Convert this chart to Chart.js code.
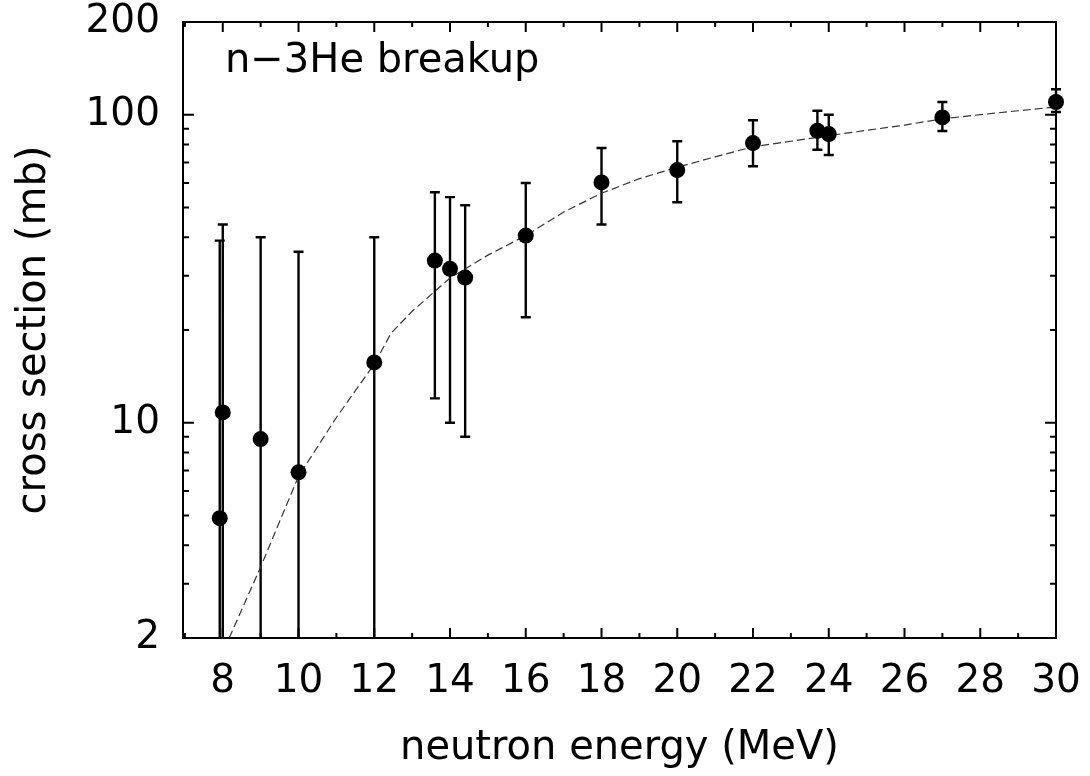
<!DOCTYPE html>
<html><head><meta charset="utf-8">
<script src="https://cdn.jsdelivr.net/npm/chart.js@4.4.1/dist/chart.umd.min.js"></script>
<style>html,body{margin:0;padding:0;background:#fff;} canvas{display:block;}</style>
</head><body>
<canvas id="c" width="1090" height="776"></canvas>
<script>
// ---- data ----
const energies      = [7.92, 8.0, 9, 10, 12, 13.6, 14.0, 14.4, 16, 18, 20, 22, 23.7, 24, 27, 30];
const crossSections = [4.9, 10.8, 8.85, 6.9, 15.7, 33.6, 31.6, 29.6, 40.5, 60.3, 66.1, 80.9, 88.7, 86.5, 98, 110];
const errHigh       = [39, 44, 40, 35.9, 40, 56, 54, 50.8, 60, 78, 82, 96, 103, 100, 110, 121];
const errLow        = [0.5, 0.5, 0.5, 0.5, 0.5, 12, 10, 9, 22, 44, 52, 68, 77, 74, 88.5, 102];

const fitEnergies = [8.17, 9, 10, 11, 12, 12.44, 13, 14, 15, 16, 17, 18, 19, 20, 21, 22, 23, 24, 25, 26, 27, 28, 29, 30];
const fitValues   = [2, 3.4, 6.7, 10.4, 15.5, 19.5, 23, 29.5, 35, 40.5, 48.3, 55.6, 62, 67.5, 73, 78.7, 82, 85.5, 89, 92.5, 97, 100, 103, 106];

const xTickLabels = [8, 10, 12, 14, 16, 18, 20, 22, 24, 26, 28, 30];
const xMinorTicks = [7, 9, 11, 13, 15, 17, 19, 21, 23, 25, 27, 29];
const yTickLabels = [2, 10, 100, 200];
const yMinorTicks = [3, 4, 5, 6, 7, 8, 9, 20, 30, 40, 50, 60, 70, 80, 90];
const yMajorTicks = [10, 100];

const chartTitle = 'n\u22123He breakup';
const xTitle = 'neutron energy (MeV)';
const yTitle = 'cross section (mb)';

const FONT = 'DejaVu Sans';
Chart.defaults.font.family = FONT;
Chart.defaults.color = '#000';

const frameAndTicks = {
  id: 'frameAndTicks',
  afterDraw(chart) {
    const {ctx, chartArea: a, scales: {x, y}} = chart;
    ctx.save();
    ctx.strokeStyle = '#000';
    ctx.lineWidth = 2;
    ctx.strokeRect(a.left, a.top, a.right - a.left, a.bottom - a.top);
    ctx.beginPath();
    const xt = (v, len) => {
      const px = x.getPixelForValue(v);
      ctx.moveTo(px, a.bottom); ctx.lineTo(px, a.bottom - len);
      ctx.moveTo(px, a.top); ctx.lineTo(px, a.top + len);
    };
    const yt = (v, len) => {
      const py = y.getPixelForValue(v);
      ctx.moveTo(a.left, py); ctx.lineTo(a.left + len, py);
      ctx.moveTo(a.right, py); ctx.lineTo(a.right - len, py);
    };
    xTickLabels.forEach(v => xt(v, 10));
    xMinorTicks.forEach(v => xt(v, 5));
    yMajorTicks.forEach(v => yt(v, 11));
    yMinorTicks.forEach(v => yt(v, 6));
    ctx.stroke();
    // in-plot title
    ctx.fillStyle = '#000';
    ctx.font = '40px "' + FONT + '"';
    ctx.textAlign = 'left';
    ctx.textBaseline = 'alphabetic';
    ctx.fillText(chartTitle, a.left + 42, a.top + 50);
    ctx.restore();
  }
};

const errorBars = {
  id: 'errorBars',
  beforeDatasetsDraw(chart) {
    const {ctx, chartArea: a, scales: {x, y}} = chart;
    ctx.save();
    ctx.beginPath();
    ctx.rect(a.left - 10, a.top, a.right - a.left + 20, a.bottom - a.top);
    ctx.clip();
    ctx.strokeStyle = '#000';
    ctx.lineWidth = 2.4;
    ctx.beginPath();
    energies.forEach((e, i) => {
      const px = x.getPixelForValue(e);
      const ph = y.getPixelForValue(errHigh[i]);
      const pl = y.getPixelForValue(errLow[i]);
      ctx.moveTo(px, pl); ctx.lineTo(px, ph);
      ctx.moveTo(px - 5, ph); ctx.lineTo(px + 5, ph);
      ctx.moveTo(px - 5, pl); ctx.lineTo(px + 5, pl);
    });
    ctx.stroke();
    ctx.restore();
  }
};

new Chart(document.getElementById('c'), {
  type: 'scatter',
  data: {
    datasets: [
      {
        label: 'data',
        data: energies.map((e, i) => ({x: e, y: crossSections[i]})),
        pointRadius: 8,
        pointBackgroundColor: '#000',
        pointBorderColor: '#000',
        pointBorderWidth: 0,
        showLine: false,
        clip: false,
        order: 0
      },
      {
        label: 'fit',
        type: 'line',
        data: fitEnergies.map((e, i) => ({x: e, y: fitValues[i]})),
        borderColor: '#333',
        borderWidth: 1.2,
        borderDash: [8, 4],
        pointRadius: 0,
        tension: 0,
        fill: false,
        order: 1
      }
    ]
  },
  options: {
    responsive: false,
    animation: false,
    layout: {padding: 0},
    plugins: {legend: {display: false}, tooltip: {enabled: false}},
    scales: {
      x: {
        type: 'linear', min: 6.95, max: 30,
        grid: {display: false, drawTicks: false},
        border: {display: false},
        afterBuildTicks: s => { s.ticks = xTickLabels.map(v => ({value: v})); },
        afterFit: s => { s.height = 138; s.paddingLeft = 0; s.paddingRight = 34; },
        ticks: {autoSkip: false, maxRotation: 0, padding: 22.5, font: {size: 39, lineHeight: 1.1}, color: '#000',
                callback: v => String(v)},
        title: {display: true, text: xTitle, font: {size: 40}, color: '#000', padding: {top: 0, bottom: 3}}
      },
      y: {
        type: 'logarithmic', min: 2, max: 200,
        grid: {display: false, drawTicks: false},
        border: {display: false},
        afterBuildTicks: s => { s.ticks = yTickLabels.map(v => ({value: v})); },
        afterFit: s => { s.width = 183; s.paddingTop = 22; s.paddingBottom = 0; },
        ticks: {autoSkip: false, padding: 23, font: {size: 39, lineHeight: 1.128}, color: '#000',
                callback: v => yTickLabels.includes(v) ? String(v) : ''},
        title: {display: true, text: yTitle, font: {size: 40}, color: '#000', padding: {top: 11, bottom: 0}}
      }
    }
  },
  plugins: [errorBars, frameAndTicks]
});
</script>
</body></html>
